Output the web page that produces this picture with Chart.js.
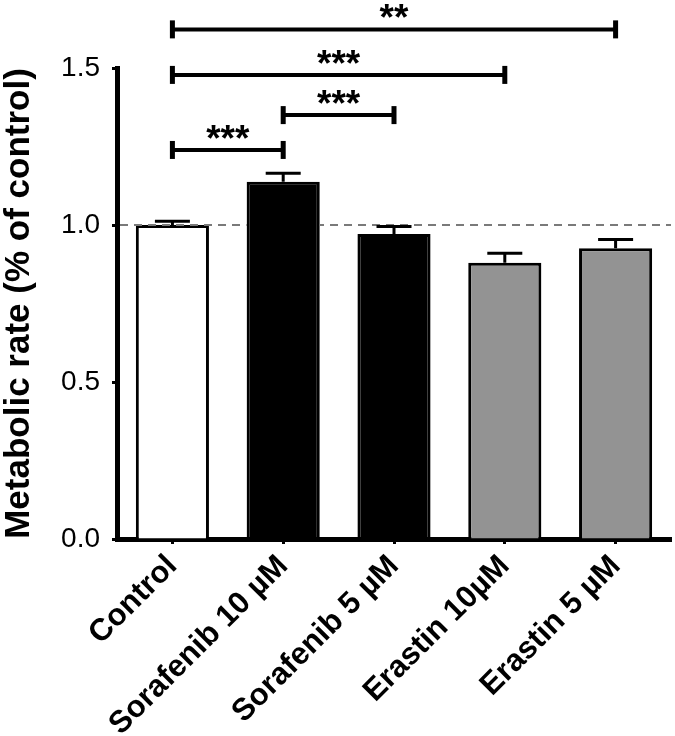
<!DOCTYPE html>
<html><head><meta charset="utf-8">
<script src="https://cdn.jsdelivr.net/npm/chart.js@4"></script>
<style>html,body{margin:0;padding:0;background:#fff}canvas{display:block}</style>
</head><body>
<canvas id="c" width="675" height="736"></canvas>
<script>
const categories = ["Control", "Sorafenib 10 µM", "Sorafenib 5 µM", "Erastin 10µM", "Erastin 5 µM"];
const means = [1.000, 1.138, 0.971, 0.880, 0.926];
const sems = [0.012, 0.027, 0.024, 0.030, 0.028];
const yTickLabels = ["0.0", "0.5", "1.0", "1.5"];
const refLine = 1.0;
const sigFrom = [0, 1, 0, 0];
const sigTo = [1, 2, 3, 4];
const sigLevel = [1.239, 1.350, 1.478, 1.623];
const sigText = ["***", "***", "***", "**"];

const FONT = '"Liberation Sans", Arial, Helvetica, sans-serif';
const barFill = ['#ffffff', '#000000', '#000000', '#939393', '#939393'];

const overlay = {
  id: 'overlay',
  afterDatasetsDraw(chart) {
    const { ctx, scales: { x, y }, chartArea } = chart;
    const meta = chart.getDatasetMeta(0);
    // reference dashed line (hidden behind bars that rise above it)
    ctx.save();
    ctx.beginPath();
    ctx.rect(chartArea.left, 0, chartArea.right - chartArea.left, chart.height);
    meta.data.forEach((bar, i) => {
      if (means[i] > refLine + 1e-9) {
        const p = bar.getProps(['x', 'y', 'base', 'width'], true);
        ctx.rect(p.x - p.width / 2, p.y, p.width, p.base - p.y);
      }
    });
    ctx.clip('evenodd');
    const y0 = y.getPixelForValue(refLine);
    ctx.strokeStyle = '#7a7a7a';
    ctx.lineWidth = 2;
    ctx.setLineDash([8, 6]);
    ctx.beginPath();
    ctx.moveTo(chartArea.left + 3, y0);
    ctx.lineTo(chartArea.right, y0);
    ctx.stroke();
    ctx.restore();

    // error bars (upper only)
    ctx.save();
    ctx.strokeStyle = '#000';
    ctx.lineWidth = 3;
    meta.data.forEach((bar, i) => {
      const bx = bar.x;
      const yb = y.getPixelForValue(means[i]);
      const yt = y.getPixelForValue(means[i] + sems[i]);
      ctx.beginPath();
      ctx.moveTo(bx, yb);
      ctx.lineTo(bx, yt);
      ctx.moveTo(bx - 17.5, yt);
      ctx.lineTo(bx + 17.5, yt);
      ctx.stroke();
    });
    ctx.restore();

    // significance brackets
    ctx.save();
    ctx.strokeStyle = '#000';
    ctx.fillStyle = '#000';
    ctx.lineWidth = 4;
    ctx.font = 'bold 37px ' + FONT;
    ctx.textAlign = 'center';
    ctx.textBaseline = 'alphabetic';
    for (let k = 0; k < sigFrom.length; k++) {
      const xa = x.getPixelForValue(sigFrom[k]);
      const xb = x.getPixelForValue(sigTo[k]);
      const yy = y.getPixelForValue(sigLevel[k]);
      ctx.beginPath();
      ctx.moveTo(xa, yy);
      ctx.lineTo(xb, yy);
      ctx.stroke();
      ctx.fillRect(xa - 2.5, yy - 9, 5, 18);
      ctx.fillRect(xb - 2.5, yy - 9, 5, 18);
      ctx.fillText(sigText[k], (xa + xb) / 2, yy + 1);
    }
    ctx.restore();
  }
};

new Chart(document.getElementById('c'), {
  type: 'bar',
  data: {
    labels: categories,
    datasets: [{
      data: means,
      backgroundColor: barFill,
      borderColor: '#000',
      borderWidth: 3,
      barPercentage: 0.66,
      categoryPercentage: 1.0
    }]
  },
  options: {
    responsive: false,
    animation: false,
    devicePixelRatio: 1,
    layout: { padding: { top: 68, right: 4, left: 0, bottom: 0 } },
    plugins: { legend: { display: false }, tooltip: { enabled: false } },
    scales: {
      x: {
        offset: true,
        grid: { display: true, drawOnChartArea: false, drawTicks: true, tickLength: 5, tickWidth: 3, tickColor: '#000', offset: false },
        border: { display: true, color: '#000', width: 5 },
        ticks: {
          autoSkip: false, maxRotation: 45, minRotation: 45, padding: 4, color: '#000',
          font: { family: FONT, size: 31, weight: 'bold' }
        },
        afterFit(s) { s.height = 197; }
      },
      y: {
        min: 0, max: 1.5,
        grid: { display: true, drawOnChartArea: false, drawTicks: true, tickLength: 5, tickWidth: 3, tickColor: '#000' },
        border: { display: true, color: '#000', width: 5 },
        ticks: {
          stepSize: 0.5, padding: 12, color: '#000',
          font: { family: FONT, size: 28 },
          callback: (v, i) => yTickLabels[i]
        },
        title: {
          display: true, text: 'Metabolic rate (% of control)', color: '#000',
          font: { family: FONT, size: 35, weight: 'bold', lineHeight: 1.1 }, padding: 0
        },
        afterFit(s) { s.width = 117; }
      }
    }
  },
  plugins: [overlay]
});
</script>
</body></html>
